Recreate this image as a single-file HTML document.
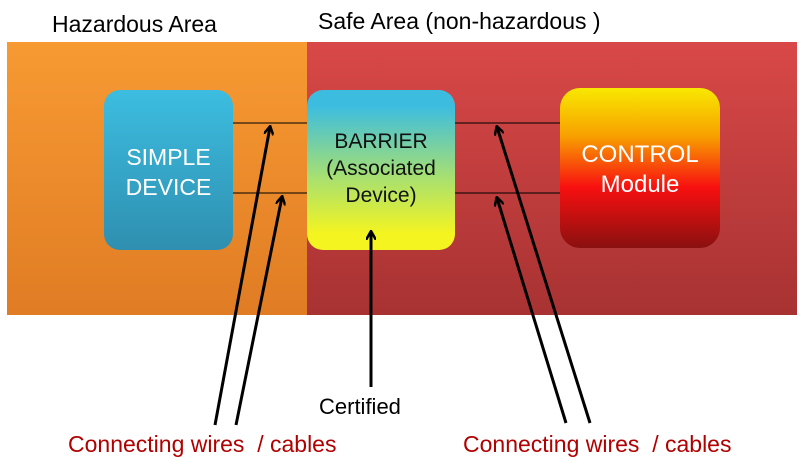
<!DOCTYPE html>
<html><head><style>
body{margin:0;width:804px;height:473px;background:#fff;overflow:hidden;position:relative;font-family:"Liberation Sans",sans-serif}
.t{position:absolute;white-space:nowrap}
</style></head><body>
<svg width="804" height="473" style="position:absolute;left:0;top:0">
<defs>
<linearGradient id="or" x1="0" y1="0" x2="0" y2="1"><stop offset="0" stop-color="#f79a32"/><stop offset="1" stop-color="#e07c24"/></linearGradient>
<linearGradient id="rd" x1="0" y1="0" x2="0" y2="1"><stop offset="0" stop-color="#d94848"/><stop offset="1" stop-color="#a83232"/></linearGradient>
<linearGradient id="bl" x1="0" y1="0" x2="0" y2="1"><stop offset="0" stop-color="#3cbde0"/><stop offset="1" stop-color="#2f8fb0"/></linearGradient>
<linearGradient id="br" x1="0" y1="0" x2="0" y2="1"><stop offset="0.1" stop-color="#3cbde0"/><stop offset="0.55" stop-color="#a8e070"/><stop offset="0.9" stop-color="#f4f420"/></linearGradient>
<linearGradient id="ct" x1="0" y1="0" x2="0" y2="1"><stop offset="0" stop-color="#f8e800"/><stop offset="0.3" stop-color="#f8a000"/><stop offset="0.62" stop-color="#f81010"/><stop offset="1" stop-color="#8a1010"/></linearGradient>
<marker id="ah" markerWidth="10" markerHeight="10" refX="8" refY="5" orient="auto" markerUnits="userSpaceOnUse"><path d="M0,0 L9,5 L0,10" fill="none" stroke="#000" stroke-width="2.5"/></marker>
</defs>
<rect x="7" y="42" width="300" height="273" fill="url(#or)"/>
<rect x="307" y="42" width="490" height="273" fill="url(#rd)"/>
<rect x="104" y="90" width="129" height="160" rx="16" fill="url(#bl)"/>
<rect x="307" y="90" width="148" height="160" rx="16" fill="url(#br)"/>
<rect x="560" y="88" width="160" height="160" rx="20" fill="url(#ct)"/>
<g stroke="#000" stroke-width="1">
<line x1="233" y1="123" x2="307" y2="123"/><line x1="233" y1="193" x2="307" y2="193"/>
<line x1="455" y1="123" x2="560" y2="123"/><line x1="455" y1="193" x2="560" y2="193"/>
</g>
<g stroke="#000" stroke-width="3" marker-end="url(#ah)">
<line x1="215" y1="425" x2="270" y2="127"/>
<line x1="236" y1="425" x2="282" y2="197"/>
<line x1="371" y1="387" x2="371" y2="232"/>
<line x1="590" y1="423" x2="497" y2="127"/>
<line x1="566" y1="423" x2="497" y2="198"/>
</g>
</svg>
<div class="t" style="left:52px;top:11px;font-size:23px">Hazardous Area</div>
<div class="t" style="left:318px;top:8px;font-size:23px">Safe Area (non-hazardous )</div>
<div class="t" style="left:104px;top:142px;width:129px;text-align:center;color:#fff;font-size:23px;line-height:30px">SIMPLE<br>DEVICE</div>
<div class="t" style="left:307px;top:128px;width:148px;text-align:center;color:#111;font-size:21px;line-height:27px">BARRIER<br>(Associated<br>Device)</div>
<div class="t" style="left:560px;top:140px;width:160px;text-align:center;color:#fff;font-size:24px;line-height:30px">CONTROL<br>Module</div>
<div class="t" style="left:319px;top:394px;font-size:22px">Certified</div>
<div class="t" style="left:68px;top:431px;font-size:23px;color:#b00000">Connecting wires&nbsp; / cables</div>
<div class="t" style="left:463px;top:431px;font-size:23px;color:#b00000">Connecting wires&nbsp; / cables</div>
</body></html>
